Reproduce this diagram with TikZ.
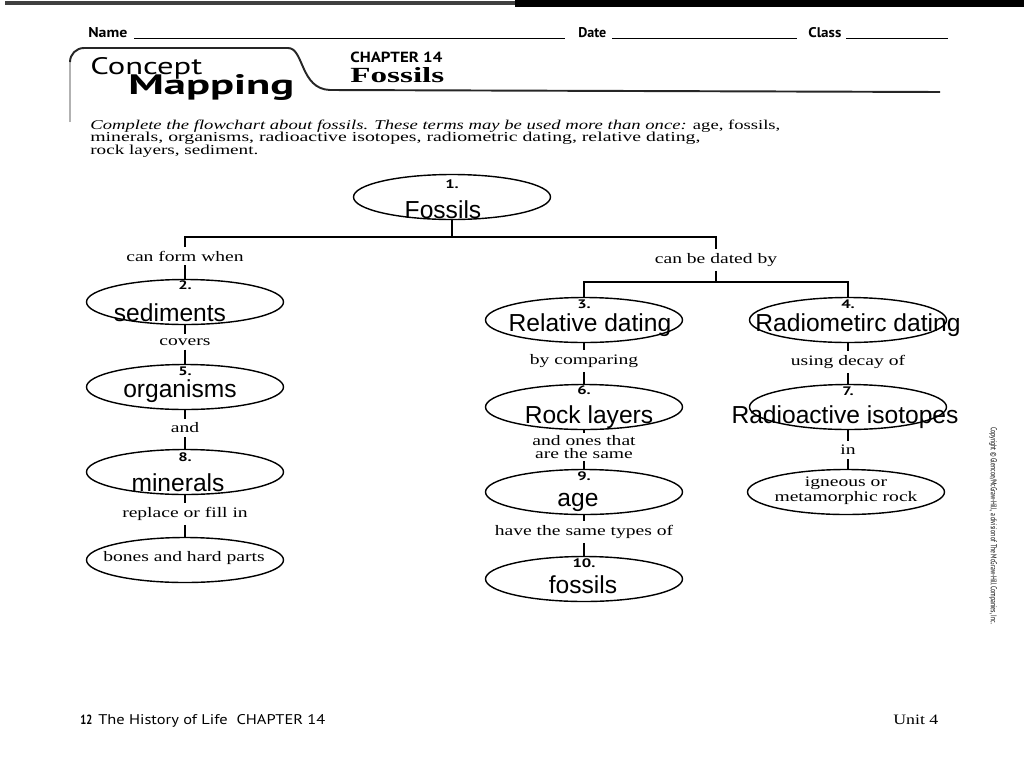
\documentclass[tikz,border=0pt]{standalone}
\usepackage{fontspec}
\setmainfont{Liberation Serif}
\newfontfamily\ansfont{Liberation Sans}
\newfontfamily\hdrfont{PT Sans}
\usetikzlibrary{shapes.geometric}
\newlength\pxu \setlength\pxu{0.02cm}
\newcommand{\wide}[1]{\scalebox{1.35}[1]{#1}}
\begin{document}
\begin{tikzpicture}[x=0.02cm,y=-0.02cm,
  oval/.style={draw, ellipse, line width=0.8pt, minimum width=197\pxu, minimum height=45\pxu, inner sep=0pt},
  lbl/.style={font=\fontsize{8.25}{7}\selectfont, inner sep=2.2pt, align=center},
  numlbl/.style={font=\hdrfont\bfseries\fontsize{7}{8}\selectfont, inner sep=0pt},
  ansr/.style={font=\ansfont\fontsize{14}{16}\selectfont, inner sep=0pt, anchor=base},
  conn/.style={line width=0.9pt},
  txt/.style={inner sep=0pt, anchor=base west}
]
\useasboundingbox (0,0) rectangle (1024,768);
\fill[white] (0,0) rectangle (1024,768);
% top scan band
\fill[black!75] (5,1) rectangle (520,5);
\fill[black] (515,0) rectangle (1024,7);
% header
\node[txt] (name) at (88,37) {\resizebox{39\pxu}{10\pxu}{\hdrfont\bfseries Name}};
\draw[line width=0.5pt] (134,38) coordinate (nl1) -- (565,38) coordinate (nl2);
\node[txt] (date) at (578,37) {\resizebox{28\pxu}{10\pxu}{\hdrfont\bfseries Date}};
\draw[line width=0.5pt] (612,38) coordinate (dl1) -- (797,38) coordinate (dl2);
\node[txt] (class) at (808,37) {\resizebox{33\pxu}{10\pxu}{\hdrfont\bfseries Class}};
\draw[line width=0.5pt] (846,38) coordinate (cl1) -- (948,38) coordinate (cl2);
% tab
\draw[black!30, line width=0.8pt] (70,122) -- (70,62);
\draw[line width=1.1pt, black!85] (70,62) to[out=90,in=180] (84,48) -- (288,48)
   .. controls (304,48) and (300,89) .. (330,90) -- (940,92);
\node[txt] (concept) at (90,74) {\resizebox{112\pxu}{17\pxu}{\hdrfont Concept}};
\node[txt] (mapping) at (128,94) {\resizebox{166\pxu}{20\pxu}{\hdrfont\bfseries Mapping}};
\node[txt] (chap) at (350,62) {\resizebox{92\pxu}{10.5\pxu}{\hdrfont\bfseries CHAPTER 14}};
\node[txt] (hfoss) at (350,82) {\resizebox{94\pxu}{15\pxu}{\bfseries Fossils}};
% instructions
\node[txt] (ins1) at (90,129) {\resizebox{690\pxu}{9.5\pxu}{\itshape Complete the flowchart about fossils. These terms may be used more than once: \upshape age, fossils,}};
\node[txt] (ins2) at (90,141.5) {\resizebox{610\pxu}{9.5\pxu}{minerals, organisms, radioactive isotopes, radiometric dating, relative dating,}};
\node[txt] (ins3) at (90,154) {\resizebox{168\pxu}{9.5\pxu}{rock layers, sediment.}};

% ===== flowchart =====
\node[oval] (n1) at (452,197) {};
\node[numlbl] at (452,184) {\wide{1.}};
\node[ansr] at (443,218) {Fossils};
\coordinate (j1) at (452,237);
\node[lbl] (lform) at (185,256) {\wide{can form when}};
\node[lbl] (ldated) at (716,260) {\wide{can be dated by}};
\draw[conn] (n1.south) -- (j1);
\draw[conn] (lform.north) |- (j1) -| (ldated.north);
\coordinate (j2) at (716,282);
\draw[conn] (ldated.south) -- (j2);

% left column
\node[oval] (n2) at (185,302) {};
\node[numlbl] at (185,285) {\wide{2.}};
\node[ansr] at (170,321) {sediments};
\draw[conn] (lform.south) -- (n2.north);
\node[lbl] (lcov) at (185,342) {\wide{covers}};
\node[oval] (n5) at (185,387) {};
\node[numlbl] at (185,371) {\wide{5.}};
\node[ansr] at (180,397) {organisms};
\draw[conn] (n2.south) -- (lcov.north);
\draw[conn] (lcov.south) -- (n5.north);
\node[lbl] (land) at (185,428) {\wide{and}};
\node[oval] (n8) at (185,472) {};
\node[numlbl] at (185,457) {\wide{8.}};
\node[ansr] at (178,491) {minerals};
\draw[conn] (n5.south) -- (land.north);
\draw[conn] (land.south) -- (n8.north);
\node[lbl] (lrep) at (185,514) {\wide{replace or fill in}};
\node[oval] (nb) at (185,560) {};
\node[lbl, inner sep=0pt] at (184,558) {\wide{bones and hard parts}};
\draw[conn] (n8.south) -- (lrep.north);
\draw[conn] (lrep.south) -- (nb.north);

% middle column
\node[oval] (n3) at (584,320) {};
\node[numlbl] at (584,304) {\wide{3.}};
\node[ansr] at (590,331) {Relative dating};
\node[oval] (n4) at (848,320) {};
\node[numlbl] at (848,304) {\wide{4.}};
\node[ansr] at (858,331) {Radiometirc dating};
\draw[conn] (n3.north) |- (j2) -| (n4.north);
\node[lbl] (lcmp) at (584,361) {\wide{by comparing}};
\node[oval] (n6) at (584,407) {};
\node[numlbl] at (584,390) {\wide{6.}};
\node[ansr] at (589,423) {Rock layers};
\draw[conn] (n3.south) -- (lcmp.north);
\draw[conn] (lcmp.south) -- (n6.north);
\node[lbl, inner sep=1.3pt] (lsame) at (584,447) {\wide{and ones that}\\\wide{are the same}};
\node[oval] (n9) at (584,492) {};
\node[numlbl] at (584,476) {\wide{9.}};
\node[ansr] at (578,506) {age};
\draw[conn] (n6.south) -- (lsame.north);
\draw[conn] (lsame.south) -- (n9.north);
\node[lbl] (ltyp) at (584,532) {\wide{have the same types of}};
\node[oval] (n10) at (584,579) {};
\node[numlbl] at (584,563) {\wide{10.}};
\node[ansr] at (583,593) {fossils};
\draw[conn] (n9.south) -- (ltyp.north);
\draw[conn] (ltyp.south) -- (n10.north);

% right column
\node[lbl] (ldec) at (848,362) {\wide{using decay of}};
\node[oval] (n7) at (848,407) {};
\node[numlbl] at (848,391) {\wide{7.}};
\node[ansr] at (845,423) {Radioactive isotopes};
\draw[conn] (n4.south) -- (ldec.north);
\draw[conn] (ldec.south) -- (n7.north);
\node[lbl] (lin) at (848,450) {\wide{in}};
\node[oval] (nig) at (846,492) {};
\node[lbl, inner sep=0pt, font=\fontsize{8.25}{12.5\pxu}\selectfont] at (846,491) {\wide{igneous or}\\\wide{metamorphic rock}};
\draw[conn] (n7.south) -- (lin.north);
\draw[conn] (lin.south) -- (nig.north -| lin.south);

% copyright margin
\node[inner sep=0pt, rotate=-90] (copy) at (993,526) {\resizebox{197\pxu}{6\pxu}{\hdrfont Copyright \textcopyright\ Glencoe/McGraw-Hill, a division of The McGraw-Hill Companies, Inc.}};
% footer
\node[txt] (pg) at (80,724) {\resizebox{12\pxu}{9.5\pxu}{\hdrfont\bfseries 12}};
\node[txt] (foot) at (98,724) {\resizebox{227\pxu}{10\pxu}{\hdrfont The History of Life\ \ CHAPTER 14}};
\node[txt] (unit) at (893,724) {\resizebox{45\pxu}{9.5\pxu}{Unit 4}};
\end{tikzpicture}
\end{document}
